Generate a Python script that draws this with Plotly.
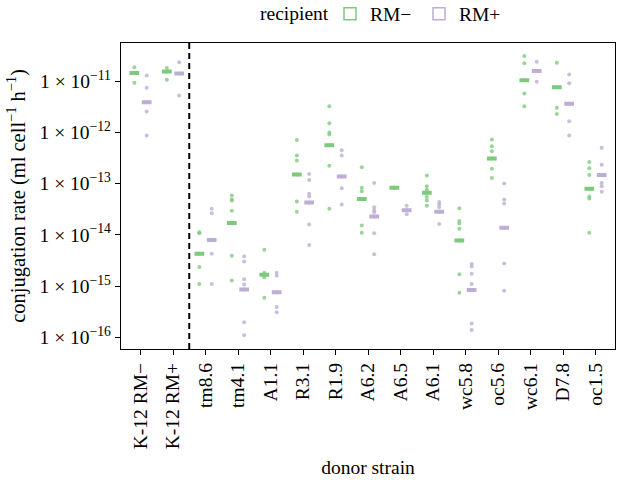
import numpy as np
import plotly.graph_objects as go

# ---------------- data (log10 of conjugation rate, ml cell^-1 h^-1) ----------------
strains = ["K-12 RM−", "K-12 RM+", "tm8.6", "tm4.1", "A1.1", "R3.1", "R1.9",
           "A6.2", "A6.5", "A6.1", "wc5.8", "oc5.6", "wc6.1", "D7.8", "oc1.5"]

rm_minus_median = [-10.84, -10.81, -14.37, -13.77, -14.78, -12.82, -12.25,
                   -13.30, -13.08, -13.18, -14.11, -12.51, -10.98, -11.12, -13.10]
rm_plus_median = [-11.41, -10.85, -14.10, -15.07, -15.12, -13.37, -12.86,
                  -13.64, -13.52, -13.55, -15.08, -13.86, -10.80, -11.44, -12.83]

rm_minus_points = [
    [-10.73, -10.84, -11.03],
    [-10.74, -10.81, -10.97],
    [-13.95, -13.97, -14.37, -14.63, -14.96],
    [-13.23, -13.31, -13.33, -13.53, -13.77, -14.41, -14.89],
    [-14.29, -14.74, -14.78, -14.83, -15.23],
    [-12.15, -12.45, -12.55, -12.82, -13.35, -13.55],
    [-11.49, -11.82, -12.00, -12.04, -12.25, -12.65, -13.49],
    [-12.68, -13.08, -13.15, -13.30, -13.82, -13.96],
    [-13.08, -13.08, -13.08],
    [-12.84, -13.05, -13.12, -13.18, -13.26, -13.33, -13.43],
    [-13.48, -13.73, -13.78, -13.88, -14.11, -14.77, -15.13],
    [-12.14, -12.27, -12.37, -12.51, -12.71, -12.89],
    [-10.51, -10.65, -10.98, -11.24, -11.49],
    [-10.64, -11.12, -11.52, -11.64],
    [-12.58, -12.70, -12.83, -13.10, -13.25, -13.29, -13.96],
]
rm_plus_points = [
    [-10.89, -11.13, -11.41, -11.59, -12.06],
    [-10.63, -10.85, -11.28],
    [-13.49, -13.58, -14.10, -14.37, -14.96],
    [-14.42, -14.52, -14.87, -14.97, -15.07, -15.71, -15.96],
    [-14.74, -14.80, -15.12, -15.41, -15.51],
    [-12.81, -12.93, -13.20, -13.25, -13.37, -13.80, -14.20],
    [-12.35, -12.45, -12.86, -13.09, -13.41],
    [-12.99, -13.46, -13.52, -13.56, -13.64, -13.97, -14.38],
    [-13.43, -13.52, -13.60],
    [-13.36, -13.41, -13.46, -13.55, -13.79],
    [-14.57, -14.62, -14.76, -14.96, -15.08, -15.73, -15.86],
    [-13.00, -13.31, -13.39, -13.86, -14.56, -15.09],
    [-10.62, -10.80, -11.01],
    [-10.87, -11.04, -11.44, -11.78, -12.06],
    [-12.30, -12.63, -12.83, -12.99, -13.05, -13.16],
]

y_tick_exponents = [-16, -15, -14, -13, -12, -11]

# ---------------- styling ----------------
FONT = "Liberation Serif"
FS = 19.5
GREEN = "#7FC97F"
PURPLE = "#BEAED4"
DODGE = 0.19
idx = np.arange(len(strains))

fig = go.Figure()

groups = [
    ("RM−", rm_minus_median, rm_minus_points, GREEN, "rgba(127,201,127,0.8)", -DODGE),
    ("RM+", rm_plus_median, rm_plus_points, PURPLE, "rgba(190,174,212,0.8)", DODGE),
]

# legend-only entries (thin outlined box glyphs)
for name, med, pts, col, pcol, off in groups:
    fig.add_trace(go.Box(
        x=[None], y=[None], name=name, legendgroup=name,
        line=dict(color=col, width=1.5), fillcolor="white", boxpoints=False,
    ))

# median bars
for name, med, pts, col, pcol, off in groups:
    m = 10.0 ** np.array(med)
    fig.add_trace(go.Box(
        x=idx + off, q1=m, median=m, q3=m, lowerfence=m, upperfence=m,
        width=0.3, name=name, legendgroup=name, showlegend=False,
        line=dict(color=col, width=4),
        fillcolor="white", boxpoints=False, hoverinfo="skip",
    ))

# individual measurements
for name, med, pts, col, pcol, off in groups:
    xs, ys = [], []
    for i, p in enumerate(pts):
        xs += [i + off] * len(p)
        ys += list(10.0 ** np.array(p))
    fig.add_trace(go.Scatter(
        x=xs, y=ys, mode="markers", showlegend=False, legendgroup=name,
        marker=dict(color=pcol, size=4, line=dict(width=0)), hoverinfo="skip",
    ))

sep = strains.index("tm8.6") - 0.5
fig.add_shape(type="line", x0=sep, x1=sep, y0=0, y1=1, xref="x", yref="paper",
              line=dict(color="black", width=2, dash="6px,4px"))

PLOT_H = 480 - 43 - 131
fig.add_annotation(text="recipient", xref="paper", yref="paper",
                   x=(258 - 121) / 494, y=1 + (43 - 14) / PLOT_H,
                   xanchor="left", yanchor="middle",
                   showarrow=False, font=dict(family=FONT, size=FS))

title_font = dict(family=FONT, size=FS, color="black")

fig.update_layout(
    width=617, height=480,
    margin=dict(l=121, r=2, t=43, b=131, autoexpand=False),
    paper_bgcolor="white", plot_bgcolor="white",
    font=dict(family=FONT, size=FS, color="black"),
    boxmode="overlay",
    legend=dict(orientation="h", x=(330 - 121) / 494, xanchor="left",
                yref="container", y=1 - 14 / 480, yanchor="middle",
                entrywidth=44, itemclick=False,
                font=dict(family=FONT, size=FS)),
    xaxis=dict(
        range=[-0.6, 14.6], tickmode="array", tickvals=idx, ticktext=strains,
        tickangle=-90, ticks="outside", ticklen=5, tickwidth=1.3, tickcolor="black",
        showline=True, mirror=True, linecolor="black", linewidth=1.3,
        showgrid=False, zeroline=False,
        title=dict(text="donor strain", standoff=12, font=title_font),
    ),
    yaxis=dict(
        type="log", range=[-16.23, -10.254], tickmode="array",
        tickvals=[10.0 ** e for e in y_tick_exponents],
        ticktext=[f"1 × 10<sup>−{abs(e)}</sup>" for e in y_tick_exponents],
        ticks="outside", ticklen=5, tickwidth=1.3, tickcolor="black",
        showline=True, mirror=True, linecolor="black", linewidth=1.3,
        showgrid=False, zeroline=False,
        title=dict(text="conjugation rate (ml cell<sup>−1</sup> h<sup>−1</sup>)",
                   standoff=8, font=dict(family=FONT, size=20.5, color="black")),
    ),
)

fig.write_html("out.html", config={"displayModeBar": False},
               post_script="document.body.style.margin='0';document.body.style.overflow='hidden';")
